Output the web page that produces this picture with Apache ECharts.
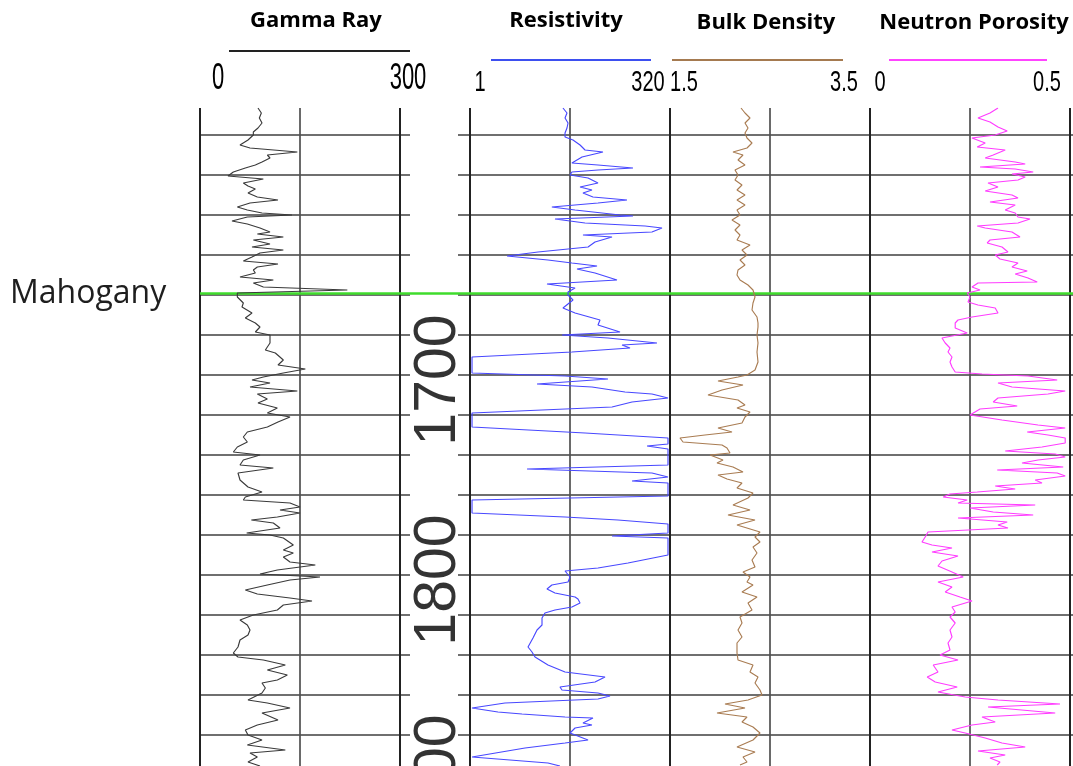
<!DOCTYPE html>
<html><head><meta charset="utf-8">
<script src="https://cdn.jsdelivr.net/npm/echarts@6/dist/echarts.min.js"></script>
<style>html,body{margin:0;padding:0;background:#fff}#c{width:1073px;height:766px}</style>
</head><body><div id="c"></div>
<script>
// ---------- data ----------
const trackTitles = ['Gamma Ray', 'Resistivity', 'Bulk Density', 'Neutron Porosity'];
const scaleLabels = [['0', '300'], ['1', '320'], ['1.5', '3.5'], ['0', '0.5']];
const grScale = [0, 150, 300];
const resScale = [1, 17.89, 320];
const denScale = [1.5, 2.5, 3.5];
const nphiScale = [0, 0.25, 0.5];
const depthRange = [1566.5, 1895.5];
const gridDepths = [1580,1600,1620,1640,1660,1680,1700,1720,1740,1760,1780,1800,1820,1840,1860,1880];
const depthLabels = [1700, 1800, 1900];
const markerName = 'Mahogany';
const markerDepth = 1659.3;

const grDepth = [1566.5,1569,1571.5,1574,1576.5,1578.5,1580,1582.5,1585,1586.5,
1588.5,1590,1591.5,1593.5,1595,1596.5,1598.5,1600.5,1602,1604,
1605.5,1607,1609,1611,1612.5,1614,1616,1617.5,1619,1620,
1621,1623,1624.5,1626.5,1628.5,1629.5,1631,1632.5,1634.5,1636,
1637.5,1639,1641,1643,1644.5,1646,1647.5,1649,1651,1652.5,
1654,1656,1657.5,1659,1661,1664,1666,1669,1671.5,1674,
1676,1678.5,1680,1684,1687.5,1689,1692.5,1695,1697,1699,
1701,1702.5,1704,1706,1708,1709.5,1712,1714,1716.5,1719,
1721,1723.5,1726,1728.5,1731,1733.5,1736,1738.5,1740,1742.5,
1745,1746.5,1749,1752.5,1756,1758.5,1761,1762.5,1764,1766,
1767.5,1769,1771,1772.5,1774,1776.5,1779,1780,1781.5,1785,
1787.5,1789,1791,1793.5,1795,1797.5,1799.5,1801,1802.5,1805,
1807.5,1809.5,1811.5,1813,1815,1817.5,1820,1822.5,1825,1827.5,
1830,1832.5,1836,1839,1841,1842.5,1845,1847.5,1850,1852.5,
1854,1856.5,1859,1862.5,1864,1866.5,1869,1872.5,1875,1877.5,
1880,1882.5,1885,1887.5,1889,1891,1893.5,1895.5];
const grValue = [87,92,89,93,87,80,80,72,60,75,
146,101,105,93,83,68,50,42,95,65,
72,83,72,86,117,75,56,71,93,138,
71,48,71,90,105,86,125,80,105,78,
125,90,78,65,117,86,80,83,60,110,
80,95,221,56,56,65,63,78,68,83,
90,83,105,105,98,113,125,117,158,125,
95,78,105,75,146,86,101,87,116,101,
135,117,101,71,65,71,56,50,90,65,
60,110,57,60,72,93,68,65,135,150,
120,150,116,77,110,120,70,105,125,140,
125,140,125,135,173,116,90,180,135,101,
68,86,135,168,125,116,80,60,71,75,
72,60,57,50,57,95,128,101,131,116,
93,98,93,72,101,135,93,117,86,68,
72,93,71,128,75,86,72,90];

const resDepth = [1566.5,1569,1571.5,1574,1576.5,1579,1581,1582.5,1585,1587.5,
1588.5,1591,1594,1595,1596.5,1597.5,1598.5,1600,1601.5,1604,
1606,1607.5,1609,1611,1612.5,1614,1616,1617.5,1620,1620.5,
1622,1624,1625.5,1626.5,1628.5,1630,1631,1633.5,1636,1638.5,
1640.5,1642.5,1644,1645.5,1647,1649,1652.5,1654.5,1656.5,1658.5,
1660,1662.5,1666.5,1669,1672.5,1675,1678.5,1680,1681.5,1684,
1685,1686.5,1688.5,1691,1699,1700.5,1702,1704.5,1706,1708.5,
1709.5,1711.5,1713.5,1716,1719,1726,1729,1731.5,1734.5,1735.5,
1737,1745,1747,1749,1751,1753,1754,1760.5,1762.5,1769,
1771,1772.5,1774.5,1779,1780.5,1781.5,1790,1794,1796.5,1798,
1799,1801,1803.5,1805,1807,1809,1811,1812,1814,1816,
1817.5,1819,1821.5,1825,1827.5,1831.5,1836,1838.5,1841,1845,
1848.5,1851,1853.5,1856,1857.5,1859,1860.5,1862,1864,1866.5,
1868.5,1869.5,1871,1871.5,1874,1875,1876.5,1879,1882.5,1884,
1886.5,1891,1894,1895.5];
const resValue = [14.6,16.4,15.5,16.9,16.4,15.5,15.5,19.5,23.9,27.6,
46.3,25.3,18.9,40.1,110,40.1,18.9,17.9,30.1,40.1,
23.9,33.7,26.0,34.7,92.6,40.1,10.6,20.7,75.7,110,
11.6,27.6,156,254,190,26.0,60.1,36.8,30.1,7.11,
2.91,9.48,18.9,39.0,21.9,36.8,69.4,9.21,20.7,16.9,
16.9,19.5,14.6,20.7,42.5,40.1,75.7,14.2,53.5,220,
80.2,101,18.9,1.06,1.06,15.5,53.5,6.91,33.7,87.4,
190,302,107,60.1,1.06,1.06,27.6,302,302,165,
302,302,5.18,190,302,107,302,302,1.06,1.06,
15.5,71.4,302,302,60.1,302,302,95.3,40.1,15.5,
16.4,17.9,16.9,10.6,9.21,11.6,20.7,22.5,23.9,18.9,
11.6,8.69,7.98,7.98,6.91,6.15,5.33,5.98,6.52,9.48,
15.5,49.1,36.8,13.4,14.2,40.1,56.7,40.1,2.74,1.06,
2.24,4.48,15.5,34.7,26.0,33.7,20.7,17.9,30.1,15.5,
4.89,1.06,9.48,13.4];

const denDepth = [1566.5,1569,1571.5,1574,1576.5,1579,1581.5,1584,1586.5,1588.5,
1590,1592.5,1595,1597.5,1600,1602.5,1605,1607.5,1610,1612.5,
1615,1617.5,1620,1622.5,1625,1627.5,1630,1632.5,1635,1637.5,
1640,1642.5,1645,1647.5,1650,1652.5,1655,1657.5,1661,1664,
1667.5,1671,1674,1676,1680,1684,1688.5,1693.5,1697.5,1700,
1701,1703,1705,1707.5,1710,1712.5,1715,1716.5,1718.5,1721,
1724,1726.5,1728.5,1730,1731.5,1733.5,1735,1736.5,1739,1740,
1742.5,1744,1746,1748.5,1750,1752,1754,1756.5,1759,1761.5,
1765,1767.5,1770,1772.5,1775,1778.5,1781,1783.5,1786,1789,
1792.5,1796,1798.5,1801,1803.5,1805,1808.5,1811,1814,1817.5,
1821,1824,1827.5,1831,1834,1839,1842.5,1845,1848.5,1851,
1854,1857.5,1860,1862.5,1864.5,1866.5,1869,1871,1873.5,1876,
1879,1882.5,1886,1888.5,1891,1893.5,1895];
const denValue = [2.21,2.25,2.30,2.25,2.28,2.25,2.27,2.32,2.27,2.13,
2.23,2.18,2.25,2.15,2.18,2.15,2.22,2.17,2.25,2.17,
2.25,2.17,2.20,2.12,2.20,2.15,2.20,2.17,2.30,2.22,
2.27,2.20,2.25,2.18,2.17,2.20,2.28,2.33,2.35,2.33,
2.32,2.37,2.38,2.38,2.37,2.38,2.37,2.38,2.35,2.27,
2.18,1.98,2.23,2.02,1.88,2.18,2.25,2.17,2.30,2.25,
2.22,1.98,2.12,1.85,1.60,1.63,2.02,2.07,2.10,1.90,
2.03,1.97,2.13,2.23,1.98,2.07,2.22,2.17,2.33,2.28,
2.13,2.30,2.08,2.35,2.17,2.40,2.35,2.40,2.33,2.37,
2.32,2.35,2.23,2.30,2.27,2.33,2.22,2.37,2.28,2.32,
2.20,2.22,2.18,2.22,2.17,2.17,2.18,2.33,2.30,2.38,
2.35,2.40,2.42,2.28,2.05,2.25,1.97,2.27,2.22,2.33,
2.40,2.33,2.17,2.35,2.23,2.27,2.20];

const nphiDepth = [1566.5,1569,1571.5,1573.5,1576,1578,1580,1581.5,1584,1586,
1587.5,1590,1591.5,1593.5,1594.5,1596,1597,1598.5,1599.5,1601,
1602.5,1604,1606,1608,1610,1611.5,1613.5,1615,1617.5,1619,
1621,1622,1624,1625.5,1626.5,1628.5,1631,1632.5,1634,1636,
1638.5,1640,1642,1644,1646,1648,1649.5,1651.5,1653.5,1654,
1656,1657.5,1659,1661,1663.5,1665,1666.5,1669,1671,1672.5,
1674,1676.5,1679,1681.5,1684,1686.5,1688.5,1691,1693.5,1696,
1698.5,1699.5,1700.5,1702.5,1704,1706,1708,1709.5,1711.5,1713.5,
1715.5,1717,1720,1722.5,1725,1726.5,1728.5,1730,1731.5,1734,
1736,1738,1739.5,1741,1742.5,1744,1746,1747.5,1749,1750.5,
1752.5,1754,1755.5,1757,1758.5,1759.5,1761,1762.5,1764,1765,
1766.5,1768.5,1770,1771.5,1773.5,1775,1776.5,1778.5,1781,1783.5,
1785,1786.5,1788.5,1790.5,1793,1795.5,1798.5,1801,1803.5,1806,
1808.5,1811,1813,1816,1818.5,1821,1824,1827.5,1831,1834,
1837.5,1840,1842.5,1845,1848.5,1851,1853.5,1856,1858.5,1861,
1862.5,1864.5,1866,1869,1871,1873.5,1875,1877.5,1879,1881.5,
1884,1886,1888,1890,1891.5,1893.5,1895];
const nphiValue = [0.320,0.300,0.270,0.300,0.320,0.343,0.313,0.255,0.288,0.268,
0.338,0.308,0.288,0.363,0.388,0.275,0.363,0.408,0.355,0.388,
0.370,0.295,0.320,0.288,0.355,0.370,0.300,0.363,0.338,0.363,
0.370,0.400,0.370,0.268,0.288,0.355,0.375,0.300,0.293,0.330,
0.345,0.313,0.325,0.370,0.355,0.393,0.363,0.395,0.418,0.270,
0.255,0.275,0.243,0.250,0.245,0.270,0.313,0.320,0.255,0.220,
0.213,0.213,0.243,0.180,0.188,0.200,0.195,0.205,0.200,0.205,
0.213,0.280,0.395,0.468,0.320,0.355,0.488,0.445,0.320,0.308,
0.368,0.275,0.250,0.330,0.420,0.488,0.393,0.445,0.488,0.488,
0.430,0.338,0.463,0.488,0.420,0.380,0.483,0.318,0.468,0.488,
0.413,0.430,0.313,0.363,0.268,0.200,0.183,0.243,0.220,0.413,
0.250,0.308,0.408,0.220,0.343,0.320,0.345,0.145,0.138,0.130,
0.155,0.205,0.155,0.220,0.180,0.170,0.205,0.233,0.170,0.205,
0.188,0.225,0.255,0.205,0.213,0.200,0.213,0.200,0.205,0.195,
0.200,0.175,0.220,0.158,0.170,0.143,0.163,0.218,0.170,0.238,
0.320,0.475,0.295,0.463,0.280,0.313,0.255,0.205,0.238,0.288,
0.330,0.388,0.270,0.338,0.300,0.325,0.318];

// ---------- chart ----------
const pairs = (d, v) => d.slice(0, Math.min(d.length, v.length)).map((dd, i) => [v[i], dd]);
const TOP = 108, H = 658;
// grid order: 0 full, 1 lines left, 2 lines right, 3 GR, 4 RES, 5 DEN, 6 NPHI, 7 depth labels
const gridDefs = [
  {left: 200, width: 873}, {left: 200, width: 210}, {left: 458, width: 615},
  {left: 200, width: 200}, {left: 470, width: 200}, {left: 670, width: 200},
  {left: 870, width: 200}, {left: 410, width: 48}
];
const grids = gridDefs.map(g => ({left: g.left, width: g.width, top: TOP, height: H, containLabel: false}));
const yAxes = gridDefs.map((g, i) => ({type: 'value', gridIndex: i, inverse: true, min: depthRange[0], max: depthRange[1], show: false}));
const xAxes = [
  {type: 'value', gridIndex: 0, min: 0, max: 1, show: false},
  {type: 'value', gridIndex: 1, min: 0, max: 1, show: false},
  {type: 'value', gridIndex: 2, min: 0, max: 1, show: false},
  {type: 'value', gridIndex: 3, min: grScale[0], max: grScale[2], show: false},
  {type: 'log', logBase: 10, gridIndex: 4, min: resScale[0], max: resScale[2], show: false},
  {type: 'value', gridIndex: 5, min: denScale[0], max: denScale[2], show: false},
  {type: 'value', gridIndex: 6, min: nphiScale[0], max: nphiScale[2], show: false},
  {type: 'value', gridIndex: 7, min: 0, max: 1, show: false}
];
const hLine = {color: '#6f6f6f', width: 2, type: 'solid'};
const edgeLine = {color: '#222', width: 2, type: 'solid'};
const midLine = {color: '#505050', width: 1.7, type: 'solid'};
function host(idx, items, z) {
  return {type: 'line', xAxisIndex: idx, yAxisIndex: idx, data: [], clip: false, silent: true, z: z,
    animation: false,
    markLine: {silent: true, symbol: 'none', animation: false, label: {show: false}, emphasis: {disabled: true}, data: items}};
}
const hItems = gridDepths.map(d => ({yAxis: d, lineStyle: hLine}));
const vItems = s => s.map((v, i) => ({xAxis: v, lineStyle: i === 1 ? midLine : edgeLine}));
function curve(idx, data, color) {
  return {type: 'line', xAxisIndex: idx, yAxisIndex: idx, data: data, showSymbol: false, symbol: 'none',
    lineStyle: {color: color, width: 1.15}, z: 5, animation: false, silent: true};
}
const series = [
  host(1, hItems, 1), host(2, hItems, 1),
  host(3, vItems(grScale), 2), host(4, vItems(resScale), 2), host(5, vItems(denScale), 2), host(6, vItems(nphiScale), 2),
  host(0, [{yAxis: markerDepth, lineStyle: {color: '#3fdc2c', width: 2.5, type: 'solid'}}], 3),
  curve(3, pairs(grDepth, grValue), '#3a3a3a'),
  curve(4, pairs(resDepth, resValue), '#4848ff'),
  curve(5, pairs(denDepth, denValue), '#a97c52'),
  curve(6, pairs(nphiDepth, nphiValue), '#ff3cff'),
  {type: 'scatter', xAxisIndex: 7, yAxisIndex: 7, data: depthLabels.map(d => [0.5, d]), symbolSize: 0, clip: false,
   silent: true, z: 6, animation: false,
   label: {show: true, position: 'inside', rotate: 90, offset: [-5, 5], formatter: p => String(p.value[1]),
     fontSize: 59, fontFamily: 'Liberation Sans, Arial, sans-serif', color: '#000'}}
];

const titleX = [316, 566, 766, 974], titleY = [21, 21, 23, 23];
const headLines = [[229, 410, 51, '#222'], [491, 651, 60, '#3d4ff0'], [672, 843, 60, '#a57a50'], [889, 1047, 60, '#ff44ff']];
const scalePos = [[218, 408, 79], [480, 648, 83], [684, 844, 83], [880, 1047, 83]];
const graphic = [];
trackTitles.forEach((t, i) => {
  graphic.push({type: 'text', x: titleX[i], y: titleY[i], silent: true,
    style: {text: t, font: 'bold 22px "Open Sans", sans-serif', fill: '#000', align: 'center', verticalAlign: 'middle'}});
  const h = headLines[i];
  graphic.push({type: 'line', silent: true, shape: {x1: h[0], y1: h[2], x2: h[1], y2: h[2]}, style: {stroke: h[3], lineWidth: 2}});
  const s = scalePos[i];
  [0, 1].forEach(k => graphic.push({type: 'text', x: s[k], y: s[2], scaleY: i === 0 ? 1.7 : 1.45, silent: true,
    style: {text: scaleLabels[i][k], font: (i === 0 ? 22 : 20) + 'px "Liberation Sans", Arial, sans-serif', fill: '#000', align: 'center', verticalAlign: 'middle'}}));
});
graphic.push({type: 'text', x: 10, y: 294, silent: true,
  style: {text: markerName, font: '32px "Open Sans", sans-serif', fill: '#1e1e1e', align: 'left', verticalAlign: 'middle'}});

const chart = echarts.init(document.getElementById('c'), null, {renderer: 'canvas'});
chart.setOption({animation: false, backgroundColor: '#fff', grid: grids, xAxis: xAxes, yAxis: yAxes, series: series, graphic: graphic});
</script></body></html>
